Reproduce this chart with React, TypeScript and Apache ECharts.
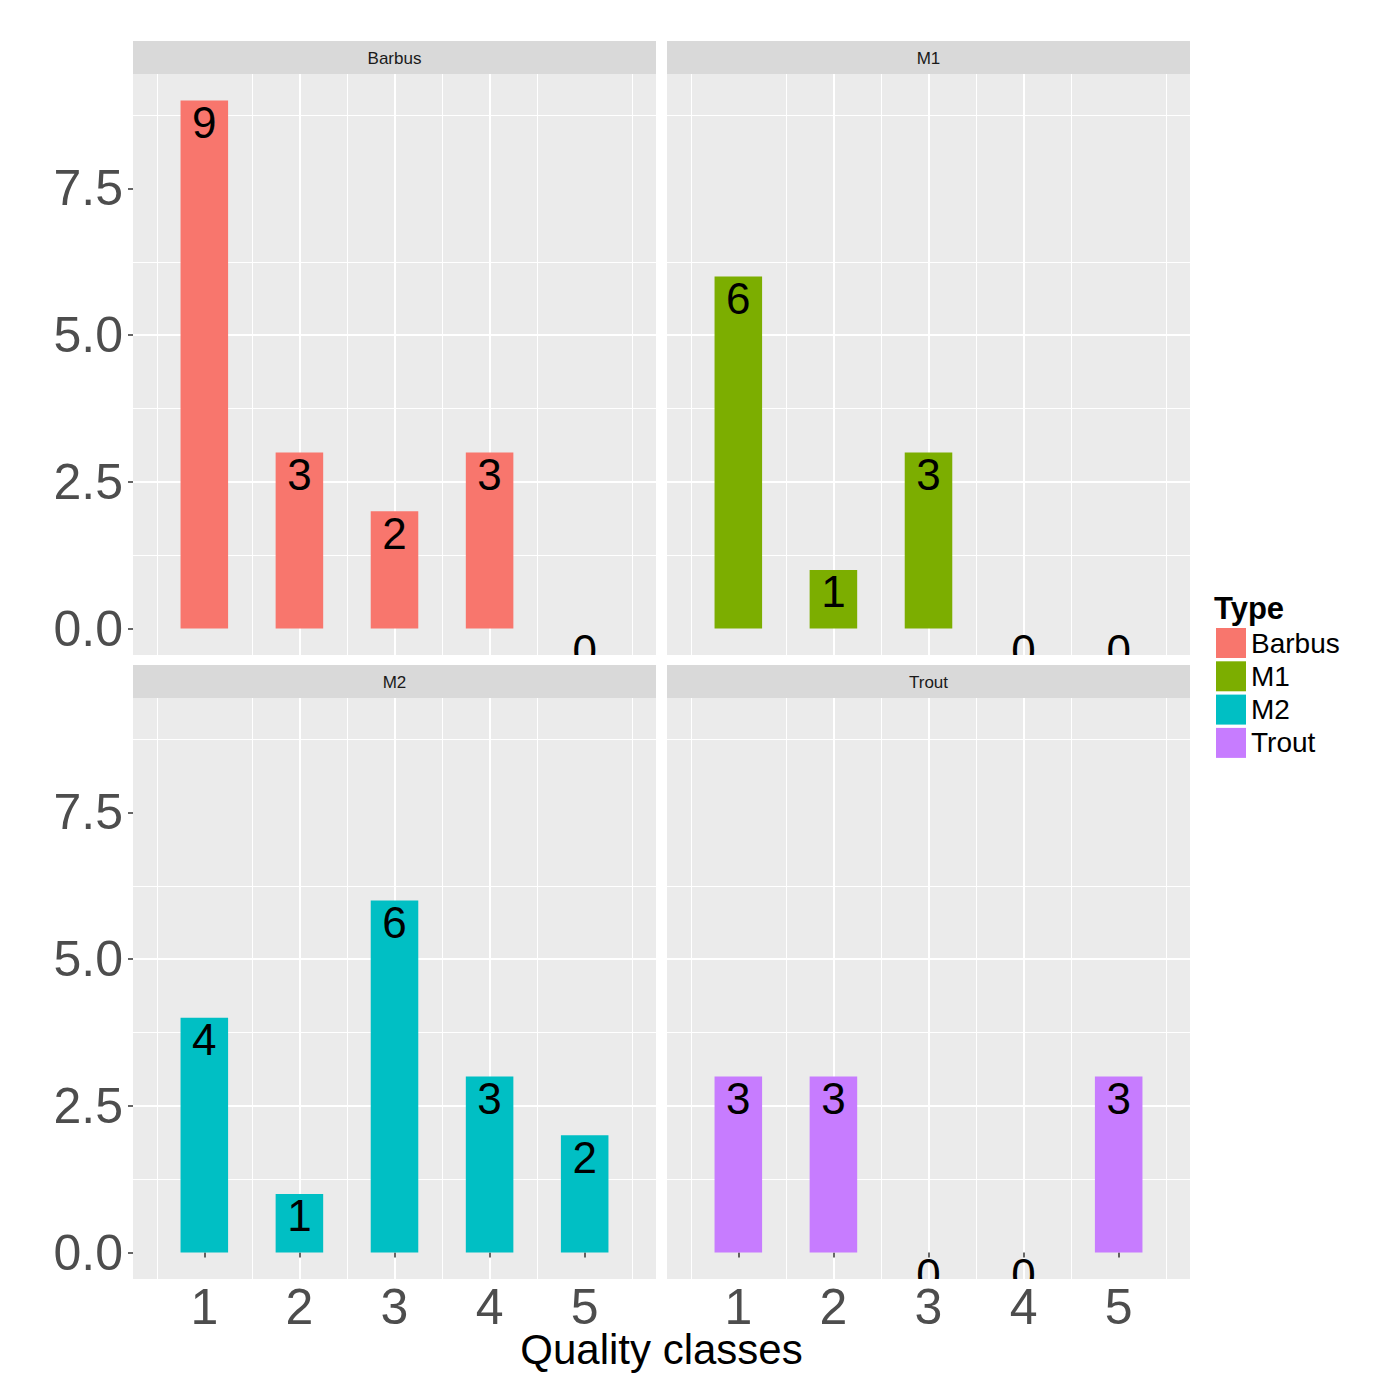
import React, { useEffect, useRef } from 'react';
import * as echarts from 'echarts';

// ---------- data ----------
const types = ['Barbus', 'M1', 'M2', 'Trout'];
const qualityClasses = [1, 2, 3, 4, 5];
const barbusCounts = [9, 3, 2, 3, 0];
const m1Counts = [6, 1, 3, 0, 0];
const m2Counts = [4, 1, 6, 3, 2];
const troutCounts = [3, 3, 0, 0, 3];
const typeColors = ['#F8766D', '#7CAE00', '#00BFC4', '#C77CFF'];
const yTickValues = [0, 2.5, 5, 7.5];
const xTitle = 'Quality classes';
const legendTitle = 'Type';

const countsByType = [barbusCounts, m1Counts, m2Counts, troutCounts];

// ---------- layout ----------
const FONT = '"Liberation Sans", Arial, Helvetica, sans-serif';
const PANEL_W = 523;
const PANEL_H = 581;
const PANEL_LEFTS = [133, 667];
const PANEL_TOPS = [74, 698];
const STRIP_H = 33;
const X_MIN = 0.25;
const X_MAX = 5.75;
const Y_MIN = -0.45;
const Y_MAX = 9.45;
const BAR_W = (0.5 * PANEL_W) / (X_MAX - X_MIN);

function buildOption() {
  const grids: any[] = [];
  const xAxes: any[] = [];
  const yAxes: any[] = [];
  const series: any[] = [];
  const graphics: any[] = [];

  types.forEach((name, i) => {
    const col = i % 2;
    const row = Math.floor(i / 2);
    const left = PANEL_LEFTS[col];
    const top = PANEL_TOPS[row];
    const isBottom = row === 1;
    const isLeft = col === 0;

    grids.push({
      left,
      top,
      width: PANEL_W,
      height: PANEL_H,
      show: true,
      backgroundColor: '#EBEBEB',
      borderWidth: 0,
      containLabel: false,
    });

    xAxes.push({
      type: 'value',
      gridIndex: i,
      min: X_MIN,
      max: X_MAX,
      minInterval: 1,
      maxInterval: 1,
      axisLine: { show: false },
      axisTick: {
        show: isBottom,
        length: 5,
        customValues: qualityClasses,
        lineStyle: { color: '#333333', width: 1.5 },
      },
      axisLabel: {
        show: isBottom,
        customValues: qualityClasses,
        formatter: (v: number) => (qualityClasses.indexOf(v) >= 0 ? String(v) : ''),
        fontSize: 50,
        lineHeight: 36,
        fontFamily: FONT,
        color: '#4D4D4D',
        margin: 10,
      },
      splitLine: {
        show: true,
        showMinLine: false,
        showMaxLine: false,
        lineStyle: { color: '#FFFFFF', width: 2 },
      },
      minorTick: { show: false, splitNumber: 2 },
      minorSplitLine: { show: true, lineStyle: { color: '#FFFFFF', width: 1 } },
    });

    yAxes.push({
      type: 'value',
      gridIndex: i,
      min: Y_MIN,
      max: Y_MAX,
      minInterval: 2.5,
      maxInterval: 2.5,
      axisLine: { show: false },
      axisTick: {
        show: isLeft,
        length: 5,
        customValues: yTickValues,
        lineStyle: { color: '#333333', width: 1.5 },
      },
      axisLabel: {
        show: isLeft,
        customValues: yTickValues,
        formatter: (v: number) => (yTickValues.indexOf(v) >= 0 ? v.toFixed(1) : ''),
        fontSize: 50,
        lineHeight: 38,
        fontFamily: FONT,
        color: '#4D4D4D',
        margin: 10,
      },
      splitLine: {
        show: true,
        showMinLine: false,
        showMaxLine: false,
        lineStyle: { color: '#FFFFFF', width: 2 },
      },
      minorTick: { show: false, splitNumber: 2 },
      minorSplitLine: { show: true, lineStyle: { color: '#FFFFFF', width: 1 } },
    });

    const pairs = qualityClasses.map((q, j) => [q, countsByType[i][j]]);

    series.push({
      type: 'bar',
      name,
      xAxisIndex: i,
      yAxisIndex: i,
      data: pairs,
      barWidth: BAR_W,
      itemStyle: { color: typeColors[i] },
      z: 2,
    });

    series.push({
      type: 'custom',
      name: name + ' labels',
      xAxisIndex: i,
      yAxisIndex: i,
      data: pairs,
      clip: true,
      z: 3,
      encode: { x: 0, y: 1 },
      renderItem: (_params: any, api: any) => {
        const x = api.value(0);
        const v = api.value(1);
        const p = api.coord([x, v]);
        return {
          type: 'text',
          x: p[0],
          y: p[1] + 22,
          style: {
            text: String(v),
            fill: '#000000',
            fontSize: 44,
            lineHeight: 28,
            fontFamily: FONT,
            align: 'center',
            verticalAlign: 'middle',
            textAlign: 'center',
            textVerticalAlign: 'middle',
          },
        };
      },
    });

    // facet strip
    graphics.push({
      type: 'rect',
      shape: { x: left, y: top - STRIP_H, width: PANEL_W, height: STRIP_H },
      style: { fill: '#D9D9D9' },
      z: 10,
    });
    graphics.push({
      type: 'text',
      x: left + PANEL_W / 2,
      y: top - STRIP_H / 2 + 1,
      style: {
        text: name,
        fill: '#1A1A1A',
        fontSize: 17,
        fontFamily: FONT,
        align: 'center',
        verticalAlign: 'middle',
        textAlign: 'center',
        textVerticalAlign: 'middle',
      },
      z: 11,
    });
  });

  // x-axis title
  graphics.push({
    type: 'text',
    x: (PANEL_LEFTS[0] + PANEL_LEFTS[1] + PANEL_W) / 2,
    y: 1349,
    style: {
      text: xTitle,
      fill: '#000000',
      fontSize: 42,
      lineHeight: 38,
      fontFamily: FONT,
      align: 'center',
      verticalAlign: 'middle',
      textAlign: 'center',
      textVerticalAlign: 'middle',
    },
    z: 11,
  });

  // legend title
  graphics.push({
    type: 'text',
    x: 1214,
    y: 608,
    style: {
      text: legendTitle,
      fill: '#000000',
      fontSize: 31,
      fontWeight: 'bold',
      fontFamily: FONT,
      align: 'left',
      verticalAlign: 'middle',
      textAlign: 'left',
      textVerticalAlign: 'middle',
    },
    z: 11,
  });

  return {
    animation: false,
    backgroundColor: '#FFFFFF',
    grid: grids,
    xAxis: xAxes,
    yAxis: yAxes,
    series,
    legend: {
      data: types,
      orient: 'vertical',
      left: 1216,
      top: 628,
      itemWidth: 30,
      itemHeight: 30,
      itemGap: 3.3,
      icon: 'rect',
      selectedMode: false,
      textStyle: { fontSize: 28, fontFamily: FONT, color: '#000000' },
      padding: 0,
    },
    graphic: { elements: graphics },
  };
}

export default function App() {
  const ref = useRef<HTMLDivElement>(null);

  useEffect(() => {
    if (!ref.current) return;
    const chart = echarts.init(ref.current, null, { renderer: 'svg' });
    chart.setOption(buildOption() as any);
    return () => {
      chart.dispose();
    };
  }, []);

  return (
    <div
      ref={ref}
      style={{ position: 'absolute', left: 0, top: 0, width: 1378, height: 1378, background: '#FFFFFF' }}
    />
  );
}
